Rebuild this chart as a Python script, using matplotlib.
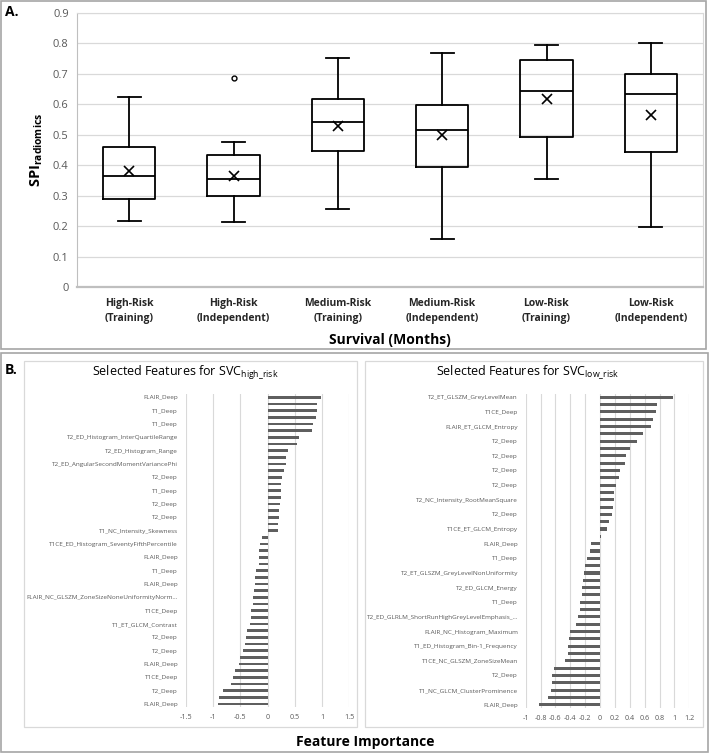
import numpy as np
import matplotlib
matplotlib.use('Agg')
import matplotlib.pyplot as plt
from matplotlib.patches import Rectangle

plt.rcParams['font.family'] = ['Open Sans', 'DejaVu Sans']
plt.rcParams['mathtext.fontset'] = 'custom'
plt.rcParams['mathtext.rm'] = 'Open Sans'
plt.rcParams['mathtext.bf'] = 'Open Sans:bold'
plt.rcParams['mathtext.it'] = 'Open Sans:italic'

# Panel A: SPI radiomics per risk group
groups = ['High-Risk\n(Training)', 'High-Risk\n(Independent)', 'Medium-Risk\n(Training)',
          'Medium-Risk\n(Independent)', 'Low-Risk\n(Training)', 'Low-Risk\n(Independent)']
whis_lo = [0.217, 0.213, 0.258, 0.159, 0.354, 0.199]
q1 = [0.290, 0.299, 0.448, 0.393, 0.491, 0.444]
median = [0.365, 0.354, 0.543, 0.516, 0.643, 0.632]
q3 = [0.461, 0.432, 0.617, 0.598, 0.746, 0.700]
whis_hi = [0.623, 0.477, 0.752, 0.769, 0.794, 0.802]
mean = [0.381, 0.365, 0.528, 0.498, 0.618, 0.566]
outliers = [[], [0.687], [], [], [], []]

# Panel B: feature importance (only every other label is shown)
high_labels = ['FLAIR_Deep', 'T1_Deep', 'T1_Deep', 'T2_ED_Histogram_InterQuartileRange',
               'T2_ED_Histogram_Range', 'T2_ED_AngularSecondMomentVariancePhi', 'T2_Deep',
               'T1_Deep', 'T2_Deep', 'T2_Deep', 'T1_NC_Intensity_Skewness',
               'T1CE_ED_Histogram_SeventyFifthPercentile', 'FLAIR_Deep', 'T1_Deep', 'FLAIR_Deep',
               'FLAIR_NC_GLSZM_ZoneSizeNoneUniformityNorm...', 'T1CE_Deep', 'T1_ET_GLCM_Contrast',
               'T2_Deep', 'T2_Deep', 'FLAIR_Deep', 'T1CE_Deep', 'T2_Deep', 'FLAIR_Deep']
high_vals = [0.976, 0.909, 0.902, 0.884, 0.835, 0.823, 0.579, 0.543, 0.372, 0.341,
             0.335, 0.299, 0.268, 0.256, 0.256, 0.250, 0.238, 0.213, 0.207, 0.201,
             0.189, -0.110, -0.140, -0.152, -0.152, -0.165, -0.207, -0.226, -0.238, -0.244,
             -0.268, -0.274, -0.305, -0.311, -0.323, -0.378, -0.390, -0.415, -0.445, -0.500,
             -0.518, -0.598, -0.640, -0.665, -0.823, -0.884, -0.915]

low_labels = ['T2_ET_GLSZM_GreyLevelMean', 'T1CE_Deep', 'FLAIR_ET_GLCM_Entropy', 'T2_Deep',
              'T2_Deep', 'T2_Deep', 'T2_Deep', 'T2_NC_Intensity_RootMeanSquare', 'T2_Deep',
              'T1CE_ET_GLCM_Entropy', 'FLAIR_Deep', 'T1_Deep', 'T2_ET_GLSZM_GreyLevelNonUniformity',
              'T2_ED_GLCM_Energy', 'T1_Deep', 'T2_ED_GLRLM_ShortRunHighGreyLevelEmphasis_...',
              'FLAIR_NC_Histogram_Maximum', 'T1_ED_Histogram_Bin-1_Frequency',
              'T1CE_NC_GLSZM_ZoneSizeMean', 'T2_Deep', 'T1_NC_GLCM_ClusterProminence', 'FLAIR_Deep']
low_vals = [0.978, 0.765, 0.757, 0.712, 0.681, 0.571, 0.500, 0.407, 0.350, 0.336,
            0.265, 0.261, 0.217, 0.186, 0.181, 0.177, 0.159, 0.124, 0.097, 0.018,
            -0.119, -0.142, -0.173, -0.204, -0.217, -0.226, -0.239, -0.243, -0.270, -0.274,
            -0.301, -0.319, -0.398, -0.412, -0.425, -0.429, -0.469, -0.615, -0.642, -0.646,
            -0.655, -0.695, -0.827]

W, H = 709, 753
fig = plt.figure(figsize=(W / 100, H / 100), dpi=100)

def fx(px):
    return px / W

def fy(py):
    return 1 - py / H

def frame(x0, y0, x1, y1, color, lw):
    fig.add_artist(Rectangle((fx(x0), fy(y1)), fx(x1 - x0), (y1 - y0) / H,
                             transform=fig.transFigure, fill=False, ec=color, lw=lw))

frame(1, 1, 706, 349, '#a6a6a6', 1.2)
frame(1, 353, 708, 752, '#a6a6a6', 1.2)
frame(24, 361, 357, 727, '#d9d9d9', 0.9)
frame(365, 361, 703, 727, '#d9d9d9', 0.9)

# ---- A ----
axA = fig.add_axes([fx(77), fy(287.3), fx(703 - 77), (287.3 - 12.7) / H])
stats = []
for i in range(len(groups)):
    stats.append(dict(med=median[i], q1=q1[i], q3=q3[i], whislo=whis_lo[i],
                      whishi=whis_hi[i], mean=mean[i], fliers=outliers[i]))
axA.bxp(stats, positions=np.arange(len(groups)), widths=0.5, capwidths=0.22,
        showmeans=True,
        boxprops=dict(color='black', lw=1.3),
        medianprops=dict(color='black', lw=1.3),
        whiskerprops=dict(color='black', lw=1.3),
        capprops=dict(color='black', lw=1.3),
        meanprops=dict(marker='x', markeredgecolor='black', markersize=7.5, mew=1.2),
        flierprops=dict(marker='o', markerfacecolor='white', markeredgecolor='black',
                        markersize=3.5, mew=1))
axA.set_xlim(-0.5, len(groups) - 0.5)
axA.set_ylim(0, 0.9)
axA.set_yticks(np.arange(0, 0.91, 0.1))
axA.set_yticklabels(['0'] + ['%.1f' % v for v in np.arange(0.1, 0.91, 0.1)])
axA.set_xticks(np.arange(len(groups)))
axA.set_xticklabels(groups, fontweight='bold', fontsize=7.5, color='#262626', linespacing=1.4)
axA.tick_params(axis='y', length=0, labelsize=8, labelcolor='#595959', pad=6)
axA.tick_params(axis='x', length=0, pad=8)
axA.grid(axis='y', color='#d9d9d9', lw=0.9)
axA.set_axisbelow(True)
for s in ['top', 'right']:
    axA.spines[s].set_color('#d9d9d9')
axA.spines['left'].set_color('#bfbfbf')
axA.spines['bottom'].set_color('#bfbfbf')
axA.spines['bottom'].set_linewidth(1.6)

fig.text(fx(37), fy(150), r'$\mathbf{SPI}_{\mathbf{radiomics}}$', rotation=90,
         ha='center', va='center', fontsize=10.5)
fig.text(fx(390), fy(340), 'Survival (Months)', ha='center', va='center',
         fontsize=10, fontweight='bold')
fig.text(fx(5), fy(12), 'A.', ha='left', va='center', fontsize=10, fontweight='bold')
fig.text(fx(5), fy(370), 'B.', ha='left', va='center', fontsize=10, fontweight='bold')

# ---- B ----
def feature_panel(rect, vals, labels, xlim, xticks, xticklabels):
    ax = fig.add_axes(rect)
    pos = np.arange(len(vals))
    ax.barh(pos, vals, height=0.42, color='#5f5f5f')
    ax.set_ylim(len(vals) - 0.5, -0.5)
    ax.set_xlim(*xlim)
    ax.set_yticks(pos[::2])
    ax.set_yticklabels(labels)
    ax.set_xticks(xticks)
    ax.set_xticklabels(xticklabels)
    ax.tick_params(axis='y', length=0, labelsize=4.6, labelcolor='#595959', pad=5.5)
    ax.tick_params(axis='x', length=0, labelsize=5.2, labelcolor='#595959', pad=5)
    ax.grid(axis='x', color='#d9d9d9', lw=0.8)
    ax.set_axisbelow(True)
    for s in ax.spines.values():
        s.set_visible(False)
    return ax

feature_panel([fx(185.7), fy(707.3), fx(349.3 - 185.7), (707.3 - 394) / H],
              high_vals, high_labels, (-1.5, 1.5), np.arange(-1.5, 1.51, 0.5),
              ['-1.5', '-1', '-0.5', '0', '0.5', '1', '1.5'])
feature_panel([fx(525.7), fy(708.4), fx(689.3 - 525.7), (708.4 - 393.6) / H],
              low_vals, low_labels, (-1.0, 1.2), np.arange(-1.0, 1.21, 0.2),
              ['-1', '-0.8', '-0.6', '-0.4', '-0.2', '0', '0.2', '0.4', '0.6', '0.8', '1', '1.2'])

fig.text(fx(185), fy(373), r'Selected Features for SVC$_{\mathrm{high\_risk}}$',
         ha='center', va='center', fontsize=9)
fig.text(fx(528), fy(373), r'Selected Features for SVC$_{\mathrm{low\_risk}}$',
         ha='center', va='center', fontsize=9)
fig.text(fx(365), fy(742), 'Feature Importance', ha='center', va='center',
         fontsize=10, fontweight='bold')

fig.savefig('out.png', dpi=100)
